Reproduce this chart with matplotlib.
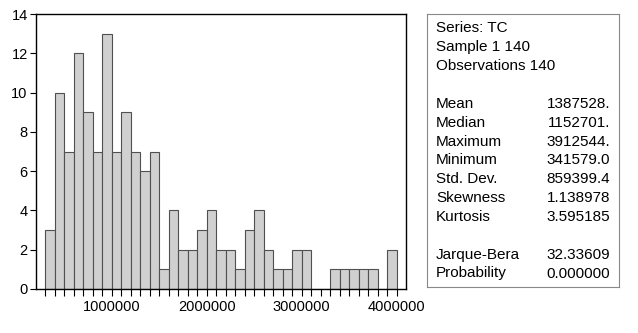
import numpy as np
import matplotlib.pyplot as plt

plt.rcParams['font.family'] = ['Liberation Sans', 'DejaVu Sans']

# histogram of TC, bins of width 100000 starting at 300000
bin_left = np.arange(300000, 4000000, 100000)
counts = [3, 10, 7, 12, 9, 7, 13, 7, 9, 7, 6, 7, 1, 4, 2, 2, 3, 4, 2, 2,
          1, 3, 4, 2, 1, 1, 2, 2, 0, 0, 1, 1, 1, 1, 1, 0, 2]
bin_width = 100000

header_lines = ['Series: TC', 'Sample 1 140', 'Observations 140']
stat_names = ['Mean', 'Median', 'Maximum', 'Minimum', 'Std. Dev.',
              'Skewness', 'Kurtosis']
stat_values = ['1387528.', '1152701.', '3912544.', '341579.0', '859399.4',
               '1.138978', '3.595185']
test_names = ['Jarque-Bera', 'Probability']
test_values = ['32.33609', '0.000000']

fig = plt.figure(figsize=(6.38, 3.33), dpi=100)
ax = fig.add_axes([36/638, 1-289/333, 370/638, 275/333])

ax.bar(bin_left, counts, width=bin_width, align='edge',
       color='#d0d0d0', edgecolor='#505050', linewidth=0.8)

ax.set_xlim(200000, 4100000)
ax.set_ylim(0, 14)
ax.set_xticks([1000000, 2000000, 3000000, 4000000])
ax.set_xticklabels(['1000000', '2000000', '3000000', '4000000'])
# small ticks on every bin edge
ax.set_xticks(np.arange(300000, 4000001, 100000), minor=True)
ax.set_yticks(range(0, 15, 2))
ax.tick_params(axis='x', which='both', direction='out', length=5,
               width=0.8, labelsize=10.5, pad=3)
ax.tick_params(axis='y', direction='out', length=4, width=0.8,
               labelsize=10.5, pad=2)
for s in ax.spines.values():
    s.set_linewidth(1.0)
    s.set_color('black')

# statistics panel
box = fig.add_axes([427/638, 1-287/333, 192/638, 273/333])
box.set_xticks([])
box.set_yticks([])
for s in box.spines.values():
    s.set_color('#888888')
    s.set_linewidth(0.8)

x_left = 436/638
x_right = 610/638
row_y = [28.3, 47.3, 66]
for y, t in zip(row_y, header_lines):
    fig.text(x_left, 1-y/333, t, fontsize=11, va='center', ha='left')

stat_y = [104.3, 123.0, 141.7, 160.5, 179.3, 198.0, 216.7]
for y, n, v in zip(stat_y, stat_names, stat_values):
    fig.text(x_left, 1-y/333, n, fontsize=11, va='center', ha='left')
    fig.text(x_right, 1-y/333, v, fontsize=11, va='center', ha='right')

test_y = [255.0, 273.5]
for y, n, v in zip(test_y, test_names, test_values):
    fig.text(x_left, 1-y/333, n, fontsize=11, va='center', ha='left')
    fig.text(x_right, 1-y/333, v, fontsize=11, va='center', ha='right')

fig.savefig('out.png', dpi=100, facecolor='white')
